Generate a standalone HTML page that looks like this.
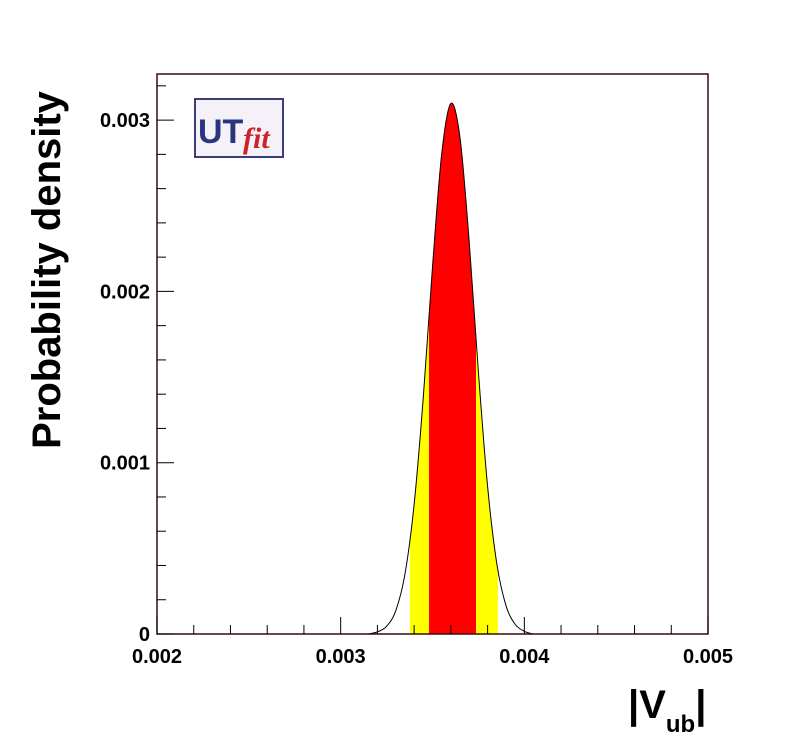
<!DOCTYPE html>
<html><head><meta charset="utf-8"><style>
body{margin:0;background:#fff;}
svg text{font-family:"Liberation Sans",sans-serif;font-weight:bold;}
</style></head><body>
<svg id="c" width="788" height="747" xmlns="http://www.w3.org/2000/svg">
<defs>
<clipPath id="yc"><rect id="yrect" x="0" y="0" width="0" height="747"/></clipPath>
<clipPath id="rc"><rect id="rrect" x="0" y="0" width="0" height="747"/></clipPath>
</defs>
<g id="plot"></g>
<g>
<rect x="195" y="99" width="88" height="58" fill="#f4f2f8" stroke="#3a3f7a" stroke-width="2"/>
<text x="198" y="143" font-size="34" fill="#2a3580">UT</text>
<text x="243" y="148" font-size="30" fill="#d0202a" font-style="italic" font-weight="normal" style="font-family:'Liberation Serif',serif">fit</text>
</g>
<text x="60" y="270" font-size="40" transform="rotate(-90 60 270)" text-anchor="middle">Probability density</text>
<text x="628" y="718" font-size="40">|V<tspan font-size="24" dy="14">ub</tspan><tspan dy="-14">|</tspan></text>
</svg>
<script>
const xs=[3.15,3.20,3.25,3.30,3.35,3.40,3.45,3.50,3.55,3.60,3.65,3.70,3.75,3.80,3.85,3.90,3.95,4.00,4.05];
const ys=[0,0.0000125,0.000045,0.000136,0.000349,0.000757,0.001384,0.002143,0.002802,0.003097,0.002895,0.002287,0.001528,0.000861,0.000411,0.000166,0.000057,0.000016,0];
const band95=[3.377,3.856];
const band68=[3.481,3.737];
const xTicks=["0.002","0.003","0.004","0.005"];
const yTicks=["0","0.001","0.002","0.003"];
const X0=157,X1=708,Y0=634,Y1=74;
const sx=v=>X0+(v-0.002)/0.003*(X1-X0);
const sy=v=>Y0-v/0.001*171.3;
const ns="http://www.w3.org/2000/svg";
const g=document.getElementById('plot');
function el(t,a){const e=document.createElementNS(ns,t);for(const k in a)e.setAttribute(k,a[k]);g.appendChild(e);return e;}
const pts=xs.map((x,i)=>[sx(x/1000),sy(ys[i])]);
let d="M"+pts[0][0]+","+pts[0][1];
for(let i=0;i<pts.length-1;i++){const p0=pts[Math.max(0,i-1)],p1=pts[i],p2=pts[i+1],p3=pts[Math.min(pts.length-1,i+2)];
d+=" C"+(p1[0]+(p2[0]-p0[0])/6)+","+(p1[1]+(p2[1]-p0[1])/6)+" "+(p2[0]-(p3[0]-p1[0])/6)+","+(p2[1]-(p3[1]-p1[1])/6)+" "+p2[0]+","+p2[1];}
const yr=document.getElementById('yrect');yr.setAttribute('x',sx(band95[0]/1000));yr.setAttribute('width',sx(band95[1]/1000)-sx(band95[0]/1000));
const rr=document.getElementById('rrect');rr.setAttribute('x',sx(band68[0]/1000));rr.setAttribute('width',sx(band68[1]/1000)-sx(band68[0]/1000));
const fy=el('path',{d:d+" Z",fill:"#ffff00","clip-path":"url(#yc)"});


const fr=el('path',{d:d+" Z",fill:"#ff0000","clip-path":"url(#rc)"});


const ln=el('path',{d:d,fill:"none",stroke:"#000","stroke-width":1});


const fr2=el('rect',{x:X0,y:Y1,width:X1-X0,height:Y0-Y1,fill:"none",stroke:"#3a0a0a","stroke-width":1.5});


for(let i=0;i<=15;i++){const v=0.002+i*0.0002,x=sx(v),L=i%5==0?17:9;
const t=el('line',{x1:x,x2:x,y1:Y0,y2:Y0-L,stroke:"#000"});

}
xTicks.forEach(s=>{const t=el('text',{x:sx(+s),y:663,"font-size":20,"text-anchor":"middle"});t.textContent=s;

});
for(let i=0;i<=16;i++){const v=i*0.0002,y=sy(v);if(y<Y1)break;const L=i%5==0?17:9;
const t=el('line',{x1:X0,x2:X0+L,y1:y,y2:y,stroke:"#000"});

}
yTicks.forEach(s=>{const t=el('text',{x:150,y:sy(+s)+7,"font-size":20,"text-anchor":"end"});t.textContent=s;

});
</script>
</body></html>
